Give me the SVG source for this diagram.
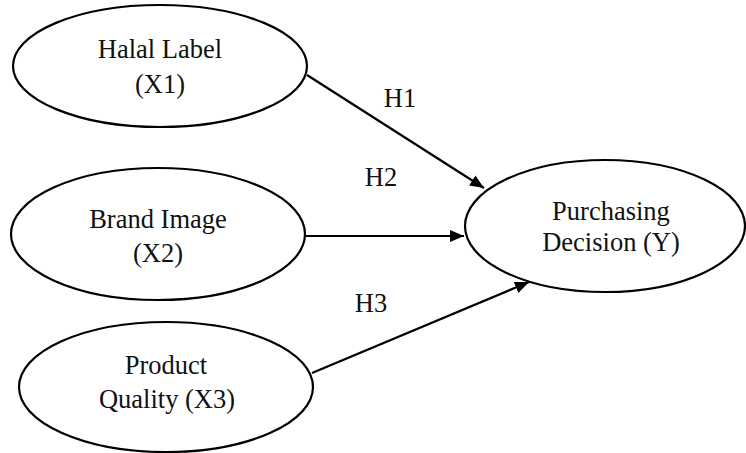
<svg xmlns="http://www.w3.org/2000/svg" width="746" height="453" viewBox="0 0 746 453">
  <style>
    .node ellipse { fill: #ffffff; stroke: #000000; stroke-width: 2.2; }
    text { font-family: "Liberation Serif", "Times New Roman", serif; font-size: 26.5px; fill: #111111; text-anchor: middle; }
    .edge line { stroke: #000000; stroke-width: 2.2; }
  </style>
  <defs>
    <marker id="arrow" viewBox="0 0 14 12" refX="14" refY="6" markerWidth="14" markerHeight="12" markerUnits="userSpaceOnUse" orient="auto">
      <path d="M0,0 L14,6 L0,12 Z" fill="#000000"/>
    </marker>
  </defs>

  <g id="connectors" class="edge">
    <line x1="307" y1="75" x2="484" y2="188" marker-end="url(#arrow)"/>
    <line x1="305" y1="236" x2="464" y2="236" marker-end="url(#arrow)"/>
    <line x1="312" y1="373" x2="529" y2="282" marker-end="url(#arrow)"/>
    <text x="400" y="107">H1</text>
    <text x="381" y="186">H2</text>
    <text x="371" y="312">H3</text>
  </g>

  <g id="halal-label" class="node">
    <ellipse cx="160" cy="66" rx="147" ry="61"/>
    <text x="160" y="58">Halal Label</text>
    <text x="160" y="93">(X1)</text>
  </g>

  <g id="brand-image" class="node">
    <ellipse cx="158" cy="234" rx="147" ry="66"/>
    <text x="158" y="228">Brand Image</text>
    <text x="158" y="262">(X2)</text>
  </g>

  <g id="product-quality" class="node">
    <ellipse cx="166" cy="387" rx="147" ry="65"/>
    <text x="166" y="374">Product</text>
    <text x="167" y="408">Quality (X3)</text>
  </g>

  <g id="purchasing-decision" class="node">
    <ellipse cx="605" cy="226" rx="140" ry="66"/>
    <text x="611" y="220">Purchasing</text>
    <text x="611" y="251">Decision (Y)</text>
  </g>
</svg>
